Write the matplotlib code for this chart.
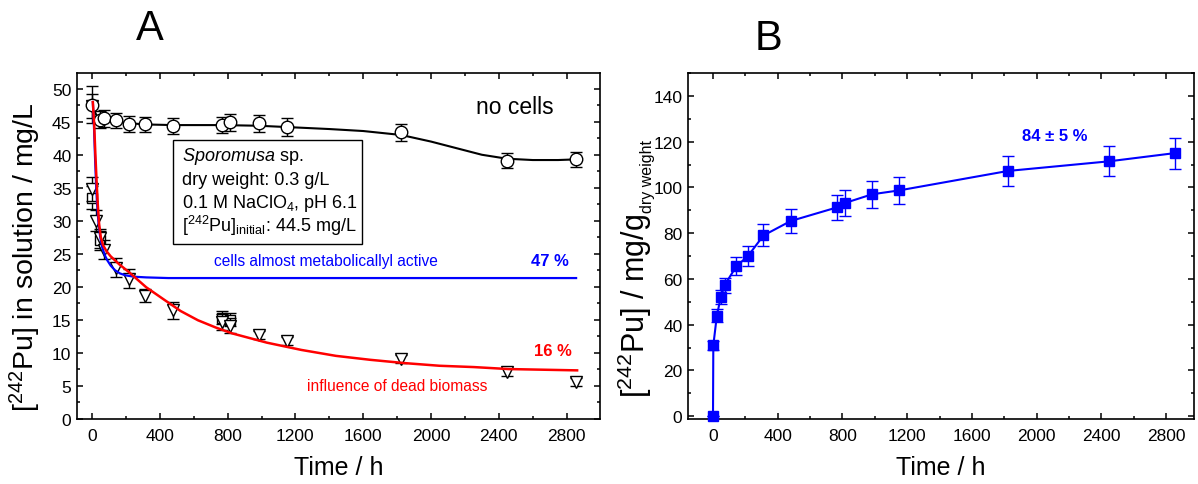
import matplotlib
matplotlib.use("Agg")
import matplotlib.pyplot as plt
from matplotlib.ticker import MultipleLocator
from matplotlib.patches import Rectangle

plt.rcParams['font.family'] = ['Liberation Sans', 'DejaVu Sans']
plt.rcParams['mathtext.fontset'] = 'custom'
plt.rcParams['mathtext.rm'] = 'Liberation Sans'
plt.rcParams['mathtext.it'] = 'Liberation Sans:italic'
plt.rcParams['mathtext.bf'] = 'Liberation Sans:bold'

# ---------------- data: panel A ----------------
circ_t = [0, 48, 72, 144, 216, 312, 480, 768, 816, 984, 1152, 1824, 2448, 2856]
circ_v = [47.6, 45.3, 45.5, 45.2, 44.7, 44.6, 44.4, 44.5, 44.9, 44.8, 44.2, 43.4, 39.1, 39.3]
circ_e = [2.8, 1.3, 1.3, 1.2, 1.2, 1.2, 1.2, 1.2, 1.3, 1.3, 1.3, 1.3, 1.1, 1.1]

tri_t = [0, 2, 24, 48, 72, 144, 216, 312, 480, 768, 816, 984, 1152, 1824, 2448, 2856]
tri_v = [47.4, 34.8, 30.0, 27.3, 25.6, 22.9, 21.2, 18.6, 16.4, 14.6, 14.1, 12.6, 11.8, 9.0, 7.1, 5.6]
tri_e = [1.8, 1.8, 1.6, 1.5, 1.4, 1.4, 1.4, 1.0, 1.3, 1.2, 1.2, 0.6, 0.6, 0.6, 0.6, 0.6]

sq_t = [2, 48, 768, 816]
sq_v = [33.5, 27.0, 15.3, 15.0]
sq_e = [1.8, 1.5, 1.0, 1.0]

black_t = [0, 15, 30, 48, 72, 144, 216, 312, 480, 768, 984, 1152, 1400, 1600, 1824,
           2000, 2150, 2300, 2448, 2600, 2750, 2856]
black_v = [47.6, 46.6, 45.8, 45.4, 45.3, 45.0, 44.8, 44.6, 44.5, 44.5, 44.4, 44.2, 43.9,
           43.6, 43.0, 42.0, 41.0, 40.0, 39.4, 39.2, 39.2, 39.3]

blue_t = [5, 12, 18, 24, 30, 38, 48, 60, 75, 90, 110, 135, 165, 200, 250, 320, 450,
          800, 1500, 2856]
blue_v = [48.0, 44.0, 39.5, 35.5, 32.5, 29.8, 27.6, 26.0, 24.8, 24.0, 23.2, 22.5, 22.0,
          21.7, 21.5, 21.4, 21.3, 21.3, 21.3, 21.3]

red_t = [5, 13, 20, 27, 34, 42, 52, 65, 85, 110, 160, 218, 320, 421, 523, 625, 730, 828,
         1032, 1235, 1439, 1642, 1845, 2049, 2252, 2456, 2862]
red_v = [48.0, 44.5, 40.0, 36.0, 32.5, 29.5, 27.5, 26.3, 25.4, 24.6, 23.4, 22.2, 19.9,
         18.1, 16.3, 14.9, 13.8, 12.9, 11.5, 10.4, 9.5, 8.9, 8.4, 8.0, 7.8, 7.5, 7.3]

# ---------------- data: panel B ----------------
b_t = [0, 2, 24, 48, 72, 144, 216, 312, 480, 768, 816, 984, 1152, 1824, 2448, 2856]
b_v = [0, 31.0, 44.0, 52.0, 57.3, 65.5, 70.0, 79.0, 85.3, 91.3, 93.2, 97.0, 98.7,
       107.2, 111.4, 115.0]
b_e = [0, 1.9, 2.8, 3.1, 3.3, 4.0, 4.2, 4.8, 5.1, 5.5, 5.5, 5.8, 6.0, 6.4, 6.6, 6.8]

xticks = [0, 400, 800, 1200, 1600, 2000, 2400, 2800]

W, H = 1198, 485
fig = plt.figure(figsize=(W / 100, H / 100), dpi=100)

def fx(px):
    return px / W

def fy(py):
    return 1 - py / H

axA = fig.add_axes([fx(77), fy(419.5), fx(600) - fx(77), fy(74) - fy(419.5)])
axB = fig.add_axes([fx(688), fy(419.5), fx(1194) - fx(688), fy(74) - fy(419.5)])

for ax in (axA, axB):
    for s in ax.spines.values():
        s.set_linewidth(1.2)
    ax.tick_params(which='both', direction='in', top=True, right=True, width=1.1,
                   labelsize=12.5)
    ax.tick_params(which='major', length=4.5)
    ax.tick_params(which='minor', length=2.5)
    ax.tick_params(axis='x', pad=7)
    ax.tick_params(axis='y', pad=4)
    ax.set_xticks(xticks)
    ax.xaxis.set_minor_locator(MultipleLocator(200))

# ---- panel A ----
axA.plot(black_t, black_v, color='black', lw=1.5, zorder=1)
ekw = dict(fmt='none', ecolor='black', elinewidth=1.0, capsize=4.5, capthick=1.0, zorder=2)
axA.errorbar(sq_t, sq_v, yerr=sq_e, **ekw)
axA.plot(sq_t, sq_v, 's', ms=7.5, mfc='white', mec='black', mew=1.0, zorder=2)
axA.errorbar(tri_t, tri_v, yerr=tri_e, **ekw)
axA.plot(tri_t, tri_v, 'v', ms=9, mfc='white', mec='black', mew=1.0, zorder=2)
axA.errorbar(circ_t, circ_v, yerr=circ_e, **ekw)
axA.plot(circ_t, circ_v, 'o', ms=9, mfc='white', mec='black', mew=1.0, zorder=2)
axA.plot(blue_t, blue_v, color='#0000ff', lw=1.6, zorder=3)
axA.plot(red_t, red_v, color='#ff0000', lw=1.8, zorder=3)

axA.set_xlim(-88.5, 2997)
axA.set_ylim(0, 52.4)
axA.yaxis.set_major_locator(MultipleLocator(5))
axA.yaxis.set_minor_locator(MultipleLocator(2.5))

# ---- panel B ----
axB.errorbar(b_t, b_v, yerr=b_e, fmt='-s', color='#0000ff', ms=7.5, lw=1.5,
             elinewidth=1.0, capsize=4.5, capthick=1.0, clip_on=False, zorder=3)
axB.set_xlim(-154.5, 2973)
axB.set_ylim(-1, 150)
axB.set_yticks([0, 20, 40, 60, 80, 100, 120, 140])
axB.yaxis.set_minor_locator(MultipleLocator(10))

# ---- labels ----
fig.text(fx(135.5), fy(39.5), 'A', fontsize=30, ha='left', va='baseline')
fig.text(fx(755), fy(49.5), 'B', fontsize=30, ha='left', va='baseline')

fig.text(fx(338.5), fy(468), 'Time / h', fontsize=18, ha='center', va='center')
fig.text(fx(941), fy(468), 'Time / h', fontsize=18, ha='center', va='center')

fig.text(fx(25), fy(257.5), r'[$\mathregular{^{242}}$Pu] in solution / mg/L', fontsize=20.5,
         rotation=90, ha='center', va='center')

mainB = fig.text(fx(635), fy(398), r'[$\mathregular{^{242}}$Pu] / mg/g', fontsize=22,
                 rotation=90, ha='center', va='bottom')
fig.canvas.draw()
bb = mainB.get_window_extent(renderer=fig.canvas.get_renderer())
inv = fig.transFigure.inverted()
sx, sy = inv.transform((bb.x1 + 1.0, bb.y1 + 1.0))
fig.text(sx, sy, 'dry weight', fontsize=11.5, rotation=90, ha='right', va='bottom')

fig.text(fx(476), fy(114), 'no cells', fontsize=16.5, ha='left', va='baseline')

# info box
fig.add_artist(Rectangle((fx(172.7), fy(245)), fx(361.7) - fx(172.7), fy(141) - fy(245),
                         transform=fig.transFigure, fill=True, facecolor='white',
                         edgecolor='black', lw=1.0, zorder=5))
box_lines = [r'$\mathit{Sporomusa}$ sp.',
             'dry weight: 0.3 g/L',
             r'0.1 M NaClO$\mathregular{_4}$, pH 6.1',
             r'[$\mathregular{^{242}}$Pu]$\mathregular{_{initial}}$: 44.5 mg/L']
for line, base in zip(box_lines, [161.5, 185, 208, 231.5]):
    fig.text(fx(181.5), fy(base), line, fontsize=13, ha='left', va='baseline', zorder=6)

fig.text(fx(214), fy(262), 'cells almost metabolicallyl active', fontsize=11.2,
         color='#0000ff', ha='left', va='center')
fig.text(fx(569), fy(262), '47 %', fontsize=12, fontweight='bold', color='#0000ff',
         ha='right', va='center')
fig.text(fx(572), fy(351.7), '16 %', fontsize=12, fontweight='bold', color='#ff0000',
         ha='right', va='center')
fig.text(fx(307.5), fy(386.7), 'influence of dead biomass', fontsize=11.2,
         color='#ff0000', ha='left', va='center')
fig.text(fx(1055), fy(136.7), '84 ± 5 %', fontsize=12, fontweight='bold',
         color='#0000ff', ha='center', va='center')

fig.savefig('out.png', dpi=100)
